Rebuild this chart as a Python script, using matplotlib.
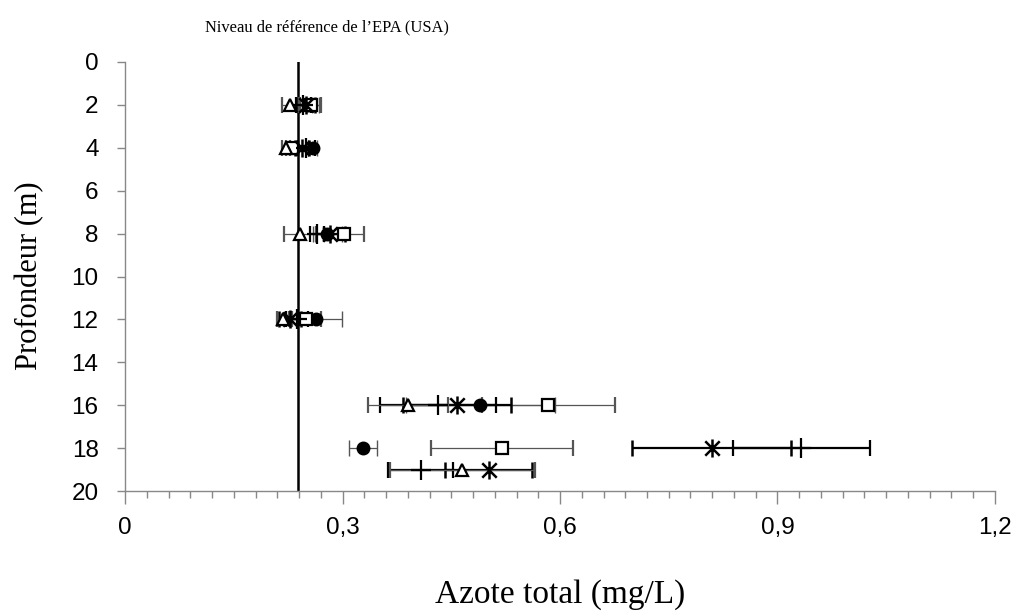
import matplotlib
matplotlib.use('Agg')
import matplotlib.pyplot as plt
from matplotlib.path import Path
from matplotlib.ticker import MultipleLocator, FuncFormatter

# depth (m) for each measurement row
depths = [2, 4, 8, 12, 16, 18, 19]

# total nitrogen (mg/L) and error per series; None = no data at that depth
circle_x = [0.252, 0.259, 0.279, 0.264, 0.490, 0.328, None]
circle_err = [0.015, 0.006, 0.02, 0.035, 0.103, 0.019, None]
square_x = [0.256, 0.230, 0.302, 0.250, 0.584, 0.520, None]
square_err = [0.015, 0.008, 0.027, 0.02, 0.092, 0.098, None]
star_x = [0.250, 0.244, 0.283, 0.228, 0.458, 0.809, 0.502]
star_err = [0.012, 0.01, 0.02, 0.015, 0.075, 0.110, 0.06]
plus_x = [0.246, 0.250, 0.265, 0.237, 0.432, 0.933, 0.408]
plus_err = [0.01, 0.012, 0.01, 0.015, 0.080, 0.094, 0.045]
tri_x = [0.228, 0.222, 0.241, 0.218, 0.390, None, 0.465]
tri_err = [0.012, 0.006, 0.022, 0.008, 0.055, None, 0.100]

epa_level = 0.238

asterisk = Path([(0, -1), (0, 1), (-0.8, -0.8), (0.8, 0.8), (-0.8, 0.8), (0.8, -0.8)],
                [Path.MOVETO, Path.LINETO, Path.MOVETO, Path.LINETO, Path.MOVETO, Path.LINETO])


def pick(xs, errs):
    pts = [(x, d, e) for x, d, e in zip(xs, depths, errs) if x is not None]
    return [p[0] for p in pts], [p[1] for p in pts], [p[2] for p in pts]


fig = plt.figure(figsize=(10.18, 6.12), dpi=100)
ax = fig.add_axes([0.1228, 0.1977, 0.8546, 0.701])

ax.plot([epa_level, epa_level], [0, 20], color='black', linewidth=1.8, zorder=2)

series = [
    (circle_x, circle_err, dict(marker='o', markersize=9, markerfacecolor='black', markeredgecolor='black'), '#555555', 0.9),
    (square_x, square_err, dict(marker='s', markersize=8, markerfacecolor='white', markeredgecolor='black', markeredgewidth=1.6), '#555555', 0.9),
    (star_x, star_err, dict(marker=asterisk, markersize=13, markeredgecolor='black', markeredgewidth=1.8), 'black', 1.6),
    (plus_x, plus_err, dict(marker='+', markersize=14, markeredgecolor='black', markeredgewidth=1.6), 'black', 1.6),
    (tri_x, tri_err, dict(marker='^', markersize=9, markerfacecolor='white', markeredgecolor='black', markeredgewidth=1.6), '#555555', 0.9),
]

for xs, errs, mstyle, ecol, elw in series:
    x, y, e = pick(xs, errs)
    ax.errorbar(x, y, xerr=e, linestyle='none', ecolor=ecol, elinewidth=elw,
                capsize=6, capthick=1.0, zorder=3, **mstyle)

ax.set_xlim(0, 1.2)
ax.set_ylim(20, 0)
ax.xaxis.set_major_locator(MultipleLocator(0.3))
ax.xaxis.set_minor_locator(MultipleLocator(0.03))
ax.yaxis.set_major_locator(MultipleLocator(2))
ax.xaxis.set_major_formatter(FuncFormatter(lambda v, p: ('%g' % round(v, 2)).replace('.', ',')))

for s in ['top', 'right']:
    ax.spines[s].set_visible(False)
for s in ['left', 'bottom']:
    ax.spines[s].set_color('#888888')
    ax.spines[s].set_linewidth(1.0)

ax.tick_params(axis='x', which='major', direction='out', length=9, width=1, color='#888888',
               pad=10, labelsize=17.5)
ax.tick_params(axis='x', which='minor', direction='out', length=5, width=1, color='#888888')
ax.tick_params(axis='y', which='major', direction='out', length=6, width=1, color='#888888',
               pad=13, labelsize=17.5)
for lab in ax.get_xticklabels() + ax.get_yticklabels():
    lab.set_family('Liberation Sans')

fig.text(0.55, 0.028, 'Azote total (mg/L)', family='Liberation Serif', fontsize=24,
         ha='center', va='center')
fig.text(0.0295, 0.549, 'Profondeur (m)', family='Liberation Serif', fontsize=22,
         ha='center', va='center', rotation=90)

fig.text(0.2014, 0.955, 'Niveau de référence de l\u2019EPA (USA)', family='Liberation Serif',
         fontsize=11.9, ha='left', va='center')

fig.savefig('out.png', dpi=100)
